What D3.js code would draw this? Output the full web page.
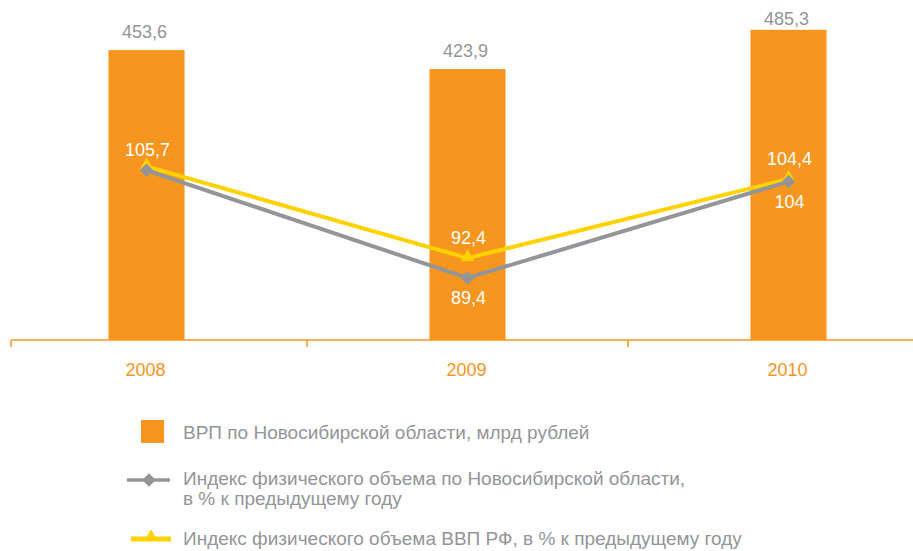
<!DOCTYPE html>
<html>
<head>
<meta charset="utf-8">
<script src="https://cdn.jsdelivr.net/npm/d3@7"></script>
<style>
  html, body { margin: 0; padding: 0; background: #fff; }
  svg { display: block; font-family: "Liberation Sans", Arial, Helvetica, sans-serif; }
</style>
</head>
<body>
<svg id="chart" width="913" height="551"></svg>
<script>
// ---- data ----
const years = ["2008", "2009", "2010"];
const grpValues = [453.6, 423.9, 485.3];            // ВРП, млрд рублей
const grpLabels = ["453,6", "423,9", "485,3"];
const regionIndex = [105.7, 89.4, 104.0];           // Новосибирская область
const regionIndexLabels = ["105,7", "89,4", "104"];
const russiaIndex = [106.3, 92.4, 104.4];           // ВВП РФ (2008 not labelled, estimated)
const russiaIndexLabels = [null, "92,4", "104,4"];
const legendLabels = [
  ["ВРП по Новосибирской области, млрд рублей"],
  ["Индекс физического объема по Новосибирской области,", "в % к предыдущему году"],
  ["Индекс физического объема ВВП РФ, в % к предыдущему году"]
];

// ---- styles / layout ----
const ORANGE = "#F7961E", GRAY = "#939598", YELLOW = "#FFD200", TEXTGRAY = "#939598";
const axisY = 340;
const regionLabelPos = ["above", "below", "below"];
const russiaLabelPos = [null, "above", "above"];

const svg = d3.select("#chart");

const x = d3.scaleBand().domain(years).range([-14, 949]).paddingInner(0).paddingOuter(0);
const barW = x.bandwidth() * 0.237;
const cx = d => x(d) + x.bandwidth() / 2;

const yBar = d3.scaleLinear().domain([0, 532]).range([axisY, 0]);
const yIdx = d3.scaleLinear().domain([80, 131.5]).range([axisY, 0]);

// bars
svg.append("g").selectAll("rect")
  .data(years.map((y, i) => ({ y, v: grpValues[i] })))
  .join("rect")
  .attr("x", d => cx(d.y) - barW / 2)
  .attr("y", d => yBar(d.v))
  .attr("width", barW)
  .attr("height", d => yBar(0) - yBar(d.v))
  .attr("fill", ORANGE);

// bar value labels
svg.append("g").selectAll("text")
  .data(years.map((y, i) => ({ y, v: grpValues[i], t: grpLabels[i] })))
  .join("text")
  .attr("x", d => cx(d.y) - 2)
  .attr("y", d => Math.max(yBar(d.v) - 12, 25))
  .attr("text-anchor", "middle")
  .attr("font-size", 18)
  .attr("fill", TEXTGRAY)
  .text(d => d.t);

// x axis
const axisG = svg.append("g").attr("transform", `translate(0,${axisY})`);
axisG.append("line").attr("x1", 11).attr("x2", 913).attr("y1", 0).attr("y2", 0)
  .attr("stroke", ORANGE).attr("stroke-width", 1.5);
const tickXs = [11].concat(years.slice(1).map(d => x(d)));
axisG.selectAll("line.tick").data(tickXs).join("line").attr("class", "tick")
  .attr("x1", d => d).attr("x2", d => d).attr("y1", 0).attr("y2", 7)
  .attr("stroke", ORANGE).attr("stroke-width", 1.5);
axisG.selectAll("text").data(years).join("text")
  .attr("x", d => cx(d) - 1)
  .attr("y", 36)
  .attr("text-anchor", "middle")
  .attr("font-size", 18)
  .attr("fill", ORANGE)
  .text(d => d);

// lines
const line = d3.line().x(d => cx(d.y)).y(d => yIdx(d.v));
const russiaData = years.map((y, i) => ({ y, v: russiaIndex[i] }));
const regionData = years.map((y, i) => ({ y, v: regionIndex[i] }));

const triSym = d3.symbol().type(d3.symbolTriangle).size(80);
const diaSym = d3.symbol().type(d3.symbolSquare).size(90);

svg.append("path").datum(russiaData).attr("d", line)
  .attr("fill", "none").attr("stroke", YELLOW).attr("stroke-width", 4).attr("stroke-linejoin", "round");
svg.append("g").selectAll("path").data(russiaData).join("path")
  .attr("d", triSym())
  .attr("transform", d => `translate(${cx(d.y)},${yIdx(d.v) - 1})`)
  .attr("fill", YELLOW);

svg.append("path").datum(regionData).attr("d", line)
  .attr("fill", "none").attr("stroke", GRAY).attr("stroke-width", 4).attr("stroke-linejoin", "round");
svg.append("g").selectAll("path").data(regionData).join("path")
  .attr("d", diaSym())
  .attr("transform", d => `translate(${cx(d.y)},${yIdx(d.v)}) rotate(45)`)
  .attr("fill", GRAY);

// line value labels
function addLabels(data, labels, pos) {
  svg.append("g").selectAll("text")
    .data(data.map((d, i) => ({ ...d, t: labels[i], p: pos[i] })).filter(d => d.t))
    .join("text")
    .attr("x", d => cx(d.y) + 1)
    .attr("y", d => d.p === "above" ? yIdx(d.v) - 14 : yIdx(d.v) + 26)
    .attr("text-anchor", "middle")
    .attr("font-size", 18)
    .attr("fill", "#fff")
    .text(d => d.t);
}
addLabels(regionData, regionIndexLabels, regionLabelPos);
addLabels(russiaData, russiaIndexLabels, russiaLabelPos);

// legend
const lg = svg.append("g");
// item 1
lg.append("rect").attr("x", 141).attr("y", 420).attr("width", 23).attr("height", 23).attr("fill", ORANGE);
// item 2
lg.append("line").attr("x1", 127).attr("x2", 170).attr("y1", 480).attr("y2", 480)
  .attr("stroke", GRAY).attr("stroke-width", 3.5);
lg.append("path").attr("d", diaSym()).attr("transform", "translate(149,480) rotate(45)").attr("fill", GRAY);
// item 3
lg.append("line").attr("x1", 131).attr("x2", 171).attr("y1", 539).attr("y2", 539)
  .attr("stroke", YELLOW).attr("stroke-width", 5);
lg.append("path").attr("d", triSym()).attr("transform", "translate(151,537)").attr("fill", YELLOW);

const legendBaselines = [439, 485, 545];
legendLabels.forEach((lines, i) => {
  lines.forEach((s, j) => {
    lg.append("text").attr("x", 183).attr("y", legendBaselines[i] + j * 19.5)
      .attr("font-size", 19).attr("fill", TEXTGRAY).text(s);
  });
});
</script>
</body>
</html>
